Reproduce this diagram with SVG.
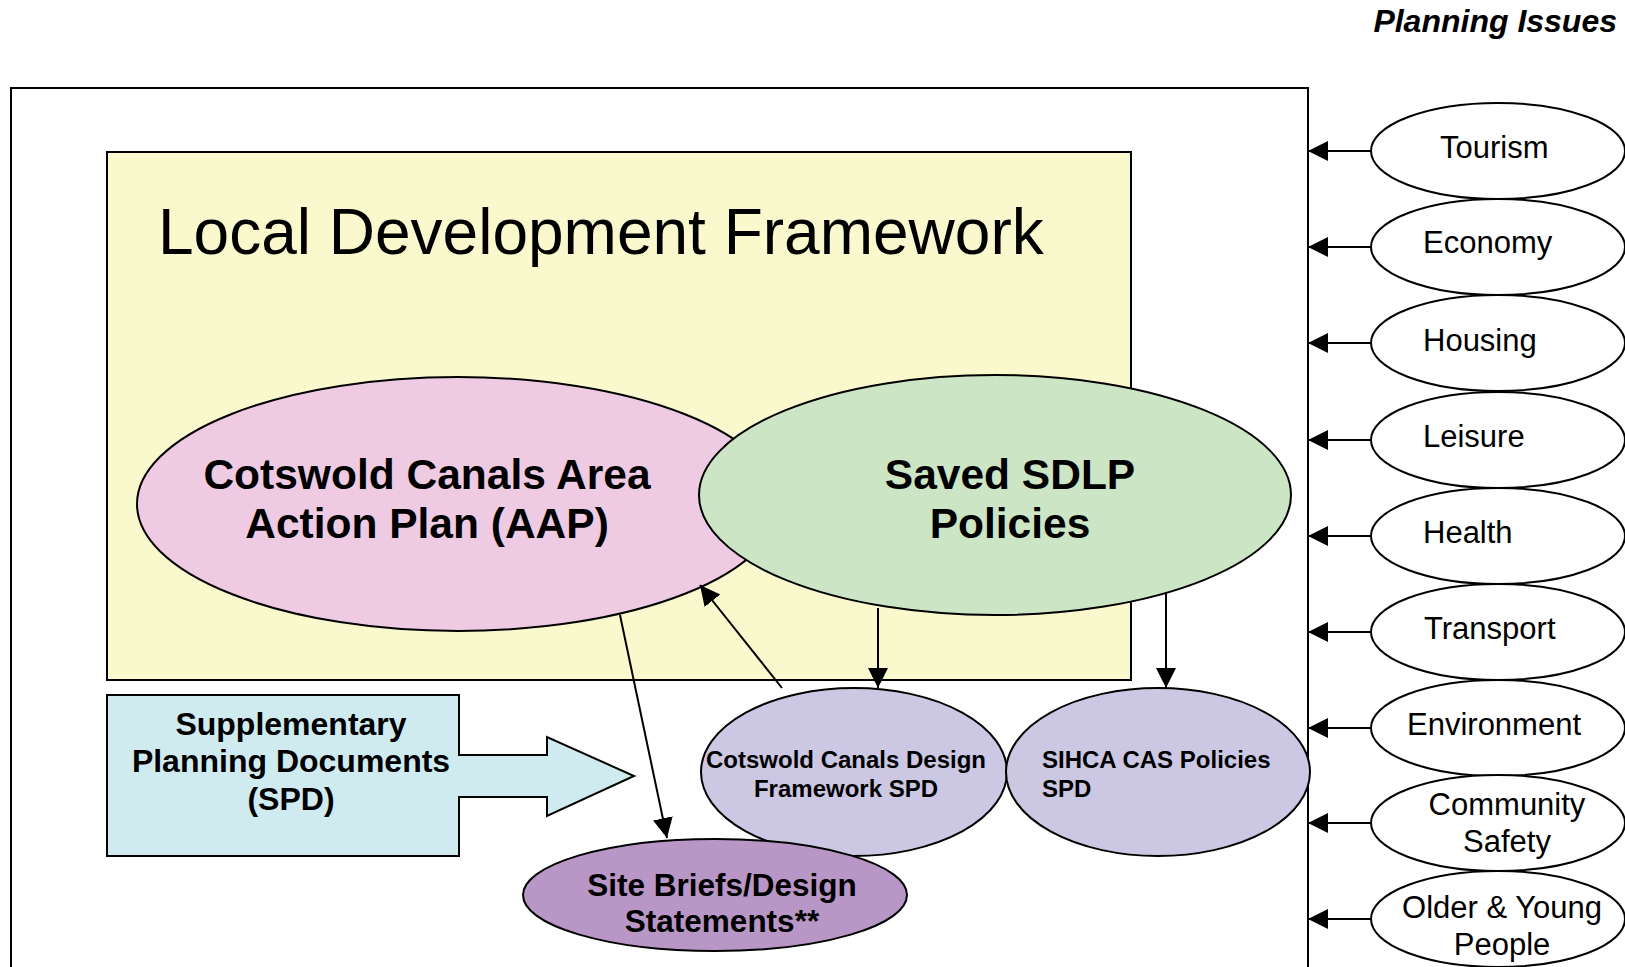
<svg xmlns="http://www.w3.org/2000/svg" width="1625" height="967" viewBox="0 0 1625 967">
<defs>
<marker id="ah" markerUnits="userSpaceOnUse" markerWidth="22" markerHeight="22" refX="20" refY="10" orient="auto">
<path d="M0,0 L20,10 L0,20 Z" fill="#000"/>
</marker>
<style>
text{font-family:"Liberation Sans",Arial,sans-serif;fill:#000}
.b{font-weight:bold}
.shape{stroke:#000;stroke-width:2}
.iss{fill:#fff;stroke:#000;stroke-width:2}
.it{font-size:31px}
.con{stroke:#000;stroke-width:2;fill:none;marker-end:url(#ah)}
</style>
</defs>
<rect width="1625" height="967" fill="#fff"/>
<text x="1617" y="32" class="b" font-style="italic" font-size="32" text-anchor="end">Planning Issues</text>
<g id="outer"><rect x="11" y="88" width="1297" height="920" fill="#fff" class="shape"/></g>
<g id="ldf">
<rect x="107" y="152" width="1024" height="528" fill="#FAF8CD" class="shape"/>
<text x="158" y="254" font-size="64">Local Development Framework</text>
</g>
<g id="aap">
<ellipse cx="458" cy="504" rx="321" ry="127" fill="#EECBE2" class="shape"/>
<text class="b" font-size="42.5" text-anchor="middle"><tspan x="427" y="489">Cotswold Canals Area</tspan><tspan x="427" y="538">Action Plan (AAP)</tspan></text>
</g>
<g id="sdlp">
<ellipse cx="995" cy="495" rx="296" ry="120" fill="#CCE6C5" class="shape"/>
<text class="b" font-size="42.5" text-anchor="middle"><tspan x="1010" y="489">Saved SDLP</tspan><tspan x="1010" y="538">Policies</tspan></text>
</g>
<g id="spd">
<path d="M107,695 H459 V755 H547 V737 L634,776 L547,816 V797 H459 V856 H107 Z" fill="#CFEBF0" class="shape"/>
<text class="b" font-size="32" text-anchor="middle"><tspan x="291" y="735">Supplementary</tspan><tspan x="291" y="772">Planning Documents</tspan><tspan x="291" y="810">(SPD)</tspan></text>
</g>
<g id="ccdf">
<ellipse cx="854" cy="772" rx="153" ry="84" fill="#CCC8E3" class="shape"/>
<text class="b" font-size="24" text-anchor="middle"><tspan x="846" y="768">Cotswold Canals Design</tspan><tspan x="846" y="797">Framework SPD</tspan></text>
</g>
<g id="sihca">
<ellipse cx="1158" cy="772" rx="152" ry="84" fill="#CCC8E3" class="shape"/>
<text class="b" font-size="24"><tspan x="1042" y="768">SIHCA CAS Policies</tspan><tspan x="1042" y="797">SPD</tspan></text>
</g>
<g id="site">
<ellipse cx="715" cy="895" rx="192" ry="56" fill="#B896C6" class="shape"/>
<text class="b" font-size="31.5" text-anchor="middle"><tspan x="722" y="896">Site Briefs/Design</tspan><tspan x="722" y="932">Statements**</tspan></text>
</g>
<g id="tourism"><ellipse cx="1498" cy="151" rx="127" ry="48" class="iss"/><text class="it" x="1440" y="158">Tourism</text></g>
<g id="economy"><ellipse cx="1498" cy="247" rx="127" ry="48" class="iss"/><text class="it" x="1423" y="253">Economy</text></g>
<g id="housing"><ellipse cx="1498" cy="343" rx="127" ry="48" class="iss"/><text class="it" x="1423" y="351">Housing</text></g>
<g id="leisure"><ellipse cx="1498" cy="440" rx="127" ry="48" class="iss"/><text class="it" x="1423" y="447">Leisure</text></g>
<g id="health"><ellipse cx="1498" cy="536" rx="127" ry="48" class="iss"/><text class="it" x="1423" y="543">Health</text></g>
<g id="transport"><ellipse cx="1498" cy="632" rx="127" ry="48" class="iss"/><text class="it" x="1424" y="639">Transport</text></g>
<g id="environment"><ellipse cx="1498" cy="728" rx="127" ry="48" class="iss"/><text class="it" x="1407" y="735">Environment</text></g>
<g id="community"><ellipse cx="1498" cy="823" rx="127" ry="48" class="iss"/><text class="it" text-anchor="middle"><tspan x="1507" y="815">Community</tspan><tspan x="1507" y="852">Safety</tspan></text></g>
<g id="older"><ellipse cx="1498" cy="919" rx="127" ry="48" class="iss"/><text class="it" text-anchor="middle"><tspan x="1502" y="918">Older &amp; Young</tspan><tspan x="1502" y="955">People</tspan></text></g>
<g id="connectors">
<line x1="620" y1="615" x2="667" y2="838" class="con"/>
<line x1="782" y1="688" x2="700" y2="585" class="con"/>
<line x1="878" y1="608" x2="878" y2="688" class="con"/>
<line x1="1166" y1="592" x2="1166" y2="688" class="con"/>
<line x1="1371" y1="151" x2="1308" y2="151" class="con"/>
<line x1="1371" y1="247" x2="1308" y2="247" class="con"/>
<line x1="1371" y1="343" x2="1308" y2="343" class="con"/>
<line x1="1371" y1="440" x2="1308" y2="440" class="con"/>
<line x1="1371" y1="536" x2="1308" y2="536" class="con"/>
<line x1="1371" y1="632" x2="1308" y2="632" class="con"/>
<line x1="1371" y1="728" x2="1308" y2="728" class="con"/>
<line x1="1371" y1="823" x2="1308" y2="823" class="con"/>
<line x1="1371" y1="919" x2="1308" y2="919" class="con"/>
</g>
</svg>
